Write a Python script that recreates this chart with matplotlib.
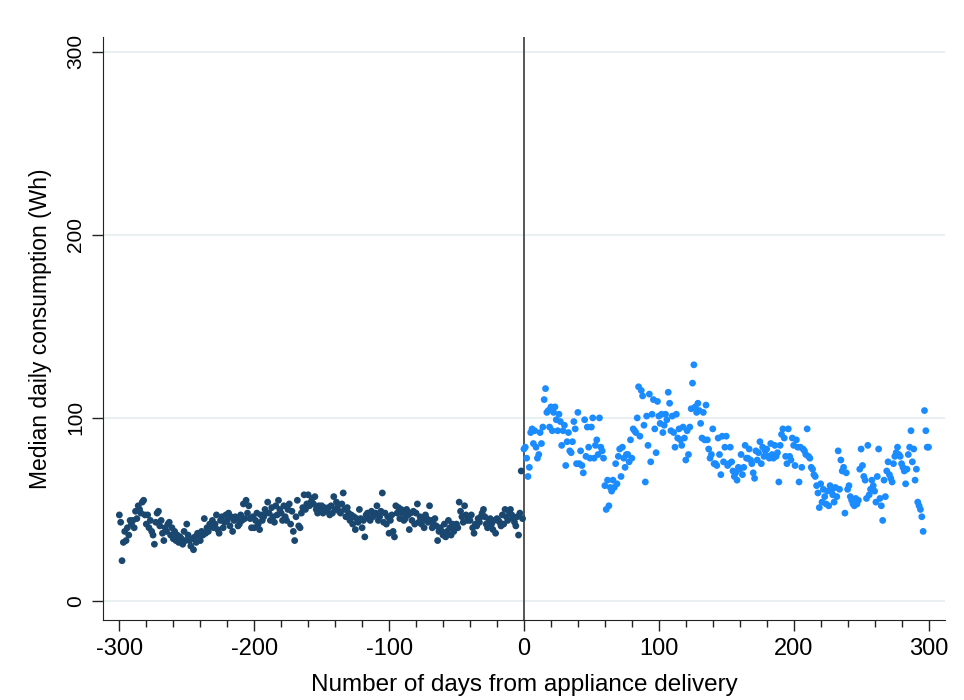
import matplotlib
matplotlib.use("Agg")
import matplotlib.pyplot as plt
import numpy as np
from matplotlib.ticker import MultipleLocator

plt.rcParams['font.family'] = ['Liberation Sans', 'DejaVu Sans']
plt.rcParams['axes.unicode_minus'] = False

# days -300..-1 before delivery
pre_days = list(range(-300, 0))
pre_vals = [
    47, 43, 22, 32, 38, 33, 40, 36, 44, 42,
    44, 40, 49, 45, 52, 50, 48, 54, 55, 47,
    42, 47, 40, 44, 38, 36, 31, 43, 48, 49,
    41, 44, 37, 33, 40, 38, 42, 43, 36, 40,
    34, 38, 33, 36, 32, 35, 34, 31, 38, 33,
    42, 36, 33, 30, 34, 28, 35, 32, 37, 36,
    33, 38, 36, 45, 37, 40, 38, 42, 41, 44,
    40, 42, 47, 39, 37, 44, 46, 40, 43, 47,
    44, 48, 41, 46, 38, 44, 46, 45, 41, 42,
    47, 44, 53, 45, 55, 48, 52, 45, 40, 46,
    40, 44, 48, 42, 39, 47, 44, 46, 50, 48,
    54, 48, 44, 51, 46, 43, 52, 47, 55, 50,
    48, 44, 52, 46, 44, 50, 53, 42, 49, 38,
    33, 46, 55, 41, 40, 48, 51, 58, 50, 53,
    58, 52, 54, 56, 53, 57, 50, 48, 52, 50,
    52, 48, 51, 50, 49, 51, 47, 52, 48, 57,
    50, 54, 52, 49, 48, 53, 59, 50, 46, 51,
    48, 44, 47, 42, 46, 39, 45, 43, 50, 45,
    40, 44, 35, 47, 48, 45, 44, 49, 46, 47,
    48, 52, 44, 46, 49, 59, 43, 48, 42, 46,
    37, 44, 47, 38, 35, 52, 48, 51, 45, 50,
    48, 44, 45, 50, 47, 39, 48, 44, 49, 42,
    48, 53, 43, 46, 42, 44, 40, 47, 45, 43,
    52, 44, 40, 42, 45, 41, 33, 38, 40, 38,
    36, 42, 35, 38, 44, 40, 36, 42, 38, 41,
    42, 40, 54, 49, 46, 43, 52, 47, 44, 46,
    44, 47, 40, 37, 42, 41, 45, 43, 46, 48,
    50, 46, 42, 40, 44, 45, 42, 39, 44, 37,
    45, 44, 43, 41, 47, 42, 50, 46, 44, 49,
    50, 47, 45, 43, 41, 46, 36, 48, 71, 45,
]

# days 0..300 after delivery
post_days = list(range(0, 301))
post_vals = [
    83, 84, 78, 68, 73, 92, 94, 86, 93, 84,
    78, 80, 92, 86, 95, 110, 116, 103, 104, 95,
    106, 93, 103, 106, 99, 93, 102, 98, 85, 93,
    96, 74, 87, 92, 82, 81, 87, 98, 94, 75,
    103, 75, 82, 74, 70, 99, 79, 95, 84, 78,
    95, 100, 78, 85, 88, 80, 100, 84, 82, 78,
    63, 50, 66, 52, 62, 60, 66, 62, 75, 64,
    79, 83, 68, 84, 78, 73, 80, 80, 76, 88,
    78, 94, 93, 92, 100, 117, 90, 115, 112, 96,
    65, 101, 85, 113, 76, 102, 110, 94, 81, 109,
    101, 97, 102, 92, 96, 102, 99, 114, 108, 93,
    101, 92, 84, 102, 89, 94, 88, 85, 95, 89,
    77, 93, 80, 95, 105, 119, 129, 106, 103, 108,
    104, 97, 89, 103, 88, 107, 88, 83, 78, 80,
    94, 75, 75, 74, 89, 80, 69, 90, 76, 84,
    90, 74, 75, 84, 76, 71, 68, 70, 66, 73,
    72, 80, 69, 73, 85, 78, 78, 83, 77, 75,
    70, 67, 82, 77, 81, 87, 75, 84, 79, 82,
    83, 79, 78, 86, 80, 78, 85, 79, 81, 65,
    85, 91, 94, 89, 79, 75, 94, 79, 77, 89,
    85, 74, 88, 84, 65, 84, 73, 83, 82, 80,
    94, 79, 78, 73, 72, 69, 68, 63, 59, 51,
    64, 54, 61, 57, 53, 60, 52, 63, 60, 58,
    54, 62, 57, 82, 61, 77, 71, 73, 48, 70,
    61, 63, 57, 55, 53, 52, 56, 53, 55, 72,
    83, 74, 68, 66, 56, 85, 58, 61, 66, 63,
    60, 54, 68, 83, 56, 52, 44, 66, 57, 71,
    76, 69, 67, 65, 75, 79, 81, 84, 80, 79,
    75, 73, 71, 64, 72, 80, 84, 93, 76, 83,
    66, 72, 54, 52, 50, 46, 38, 104, 93, 84,
    84,
]

x_ticks = [-300, -200, -100, 0, 100, 200, 300]
y_ticks = [0, 100, 200, 300]

fig = plt.figure(figsize=(9.64, 7.0), dpi=100)
ax = fig.add_axes([0.107, 0.114, 0.873, 0.833])

for y in y_ticks:
    ax.axhline(y, color='#e9f0f2', lw=1.5, zorder=0)

ax.axvline(0, color='#555555', lw=1.4, zorder=1)

ax.scatter(pre_days, pre_vals, s=24, color='#1a476f', edgecolors='none', zorder=3)
ax.scatter(post_days, post_vals, s=24, color='#1a8cff', edgecolors='none', zorder=3)

ax.set_xlim(-312, 312)
ax.set_ylim(-10.5, 308)
ax.set_xticks(x_ticks)
ax.set_yticks(y_ticks)
ax.xaxis.set_minor_locator(MultipleLocator(20))
ax.set_yticklabels([str(v) for v in y_ticks], rotation=90, va='center')

ax.spines['top'].set_visible(False)
ax.spines['right'].set_visible(False)
ax.spines['left'].set_color('#222222')
ax.spines['bottom'].set_color('#222222')

ax.tick_params(axis='both', which='major', length=8, width=1, color='#222222', pad=5)
ax.tick_params(axis='x', which='major', labelsize=17)
ax.tick_params(axis='y', which='major', labelsize=15)
ax.tick_params(axis='x', which='minor', length=5, width=1, color='#222222')

ax.set_xlabel('Number of days from appliance delivery', fontsize=17.5, labelpad=10)
ax.set_ylabel('Median daily consumption (Wh)', fontsize=16.5, labelpad=10)

fig.savefig('out.png', dpi=100)
